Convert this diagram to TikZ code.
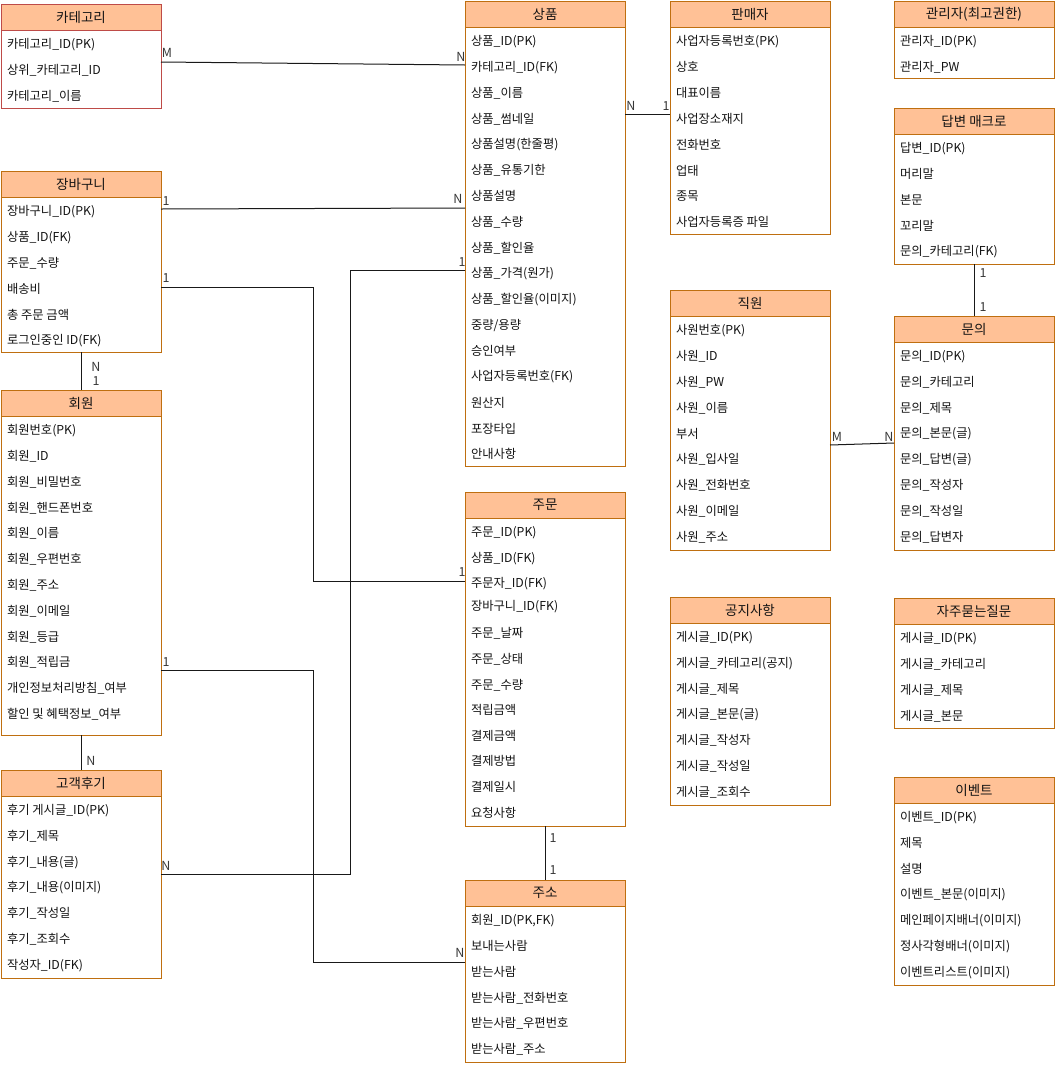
\documentclass[tikz,border=0pt]{standalone}
\usepackage{fontspec}
\setmainfont{Noto Sans CJK KR}
\definecolor{hdrfill}{HTML}{FFC196}
\definecolor{orgstroke}{HTML}{BF6F10}
\definecolor{redstroke}{HTML}{BE4B48}
\definecolor{txt}{HTML}{141414}
\tikzset{
  tbl/.style={rectangle, minimum width=160, inner sep=0, outer sep=0, line width=1pt, fill=white},
  hdr/.style={rectangle, minimum width=160, minimum height=26, inner sep=0, outer sep=0, line width=1pt, fill=hdrfill, font=\fontsize{13.5}{15}\selectfont, text=txt},
  rowtext/.style={anchor=west, inner sep=0, outer sep=0, font=\fontsize{12.3}{14}\selectfont, text=txt},
  conn/.style={draw=black!90, line width=1pt},
  card/.style={inner sep=0, font=\fontsize{12.5}{14}\selectfont, text=txt!85},
}
% #1 stroke colour, #2 id, #3 x, #4 y, #5 height, #6 title, #7 rows
\newcommand{\ertable}[7][orgstroke]{%
  \node[tbl, draw=#1, minimum height=#5, anchor=north west] (#2) at (#3,#4) {};
  \node[hdr, draw=#1, anchor=north west] (#2-h) at (#3,#4) {#6};
  \foreach \r [count=\i] in {#7} {
    \node[rowtext] (#2-\i) at ({#3+6},{#4+26+14.5+(\i-1)*25.8}) {\r};
  }
}
\begin{document}
\begin{tikzpicture}[x=1pt,y=-1pt]
\fill[white] (0,0) rectangle (1055,1066);
\useasboundingbox (0,0) rectangle (1055,1066);

\ertable[redstroke]{cat}{1}{4}{104}{카테고리}{카테고리\_ID(PK), 상위\_카테고리\_ID, 카테고리\_이름}
\ertable{cart}{1}{171}{181}{장바구니}{장바구니\_ID(PK), 상품\_ID(FK), 주문\_수량, 배송비, 총 주문 금액, 로그인중인 ID(FK)}
\ertable{mem}{1}{390}{345}{회원}{회원번호(PK), 회원\_ID, 회원\_비밀번호, 회원\_핸드폰번호, 회원\_이름, 회원\_우편번호, 회원\_주소, 회원\_이메일, 회원\_등급, 회원\_적립금, 개인정보처리방침\_여부, 할인 및 혜택정보\_여부}
\ertable{rev}{1}{770}{208}{고객후기}{후기 게시글\_ID(PK), 후기\_제목, 후기\_내용(글), 후기\_내용(이미지), 후기\_작성일, 후기\_조회수, 작성자\_ID(FK)}
\ertable{prod}{465}{1}{465}{상품}{상품\_ID(PK), 카테고리\_ID(FK), 상품\_이름, 상품\_썸네일, 상품설명(한줄평), 상품\_유통기한, 상품설명, 상품\_수량, 상품\_할인율, 상품\_가격(원가), 상품\_할인율(이미지), {중량/용량}, 승인여부, 사업자등록번호(FK), 원산지, 포장타입, 안내사항}
\ertable{sel}{670}{1}{233}{판매자}{사업자등록번호(PK), 상호, 대표이름, 사업장소재지, 전화번호, 업태, 종목, 사업자등록증 파일}
\ertable{adm}{894}{1}{77}{관리자(최고권한)}{관리자\_ID(PK), 관리자\_PW}
\ertable{mac}{894}{108}{156}{답변 매크로}{답변\_ID(PK), 머리말, 본문, 꼬리말, 문의\_카테고리(FK)}
\ertable{inq}{894}{316}{234}{문의}{문의\_ID(PK), 문의\_카테고리, 문의\_제목, 문의\_본문(글), 문의\_답변(글), 문의\_작성자, 문의\_작성일, 문의\_답변자}
\ertable{emp}{670}{290}{260}{직원}{사원번호(PK), 사원\_ID, 사원\_PW, 사원\_이름, 부서, 사원\_입사일, 사원\_전화번호, 사원\_이메일, 사원\_주소}
\ertable{addr}{465}{880}{182}{주소}{{회원\_ID(PK,FK)}, 보내는사람, 받는사람, 받는사람\_전화번호, 받는사람\_우편번호, 받는사람\_주소}
\ertable{ntc}{670}{597}{208}{공지사항}{게시글\_ID(PK), 게시글\_카테고리(공지), 게시글\_제목, 게시글\_본문(글), 게시글\_작성자, 게시글\_작성일, 게시글\_조회수}
\ertable{faq}{894}{598}{130}{자주묻는질문}{게시글\_ID(PK), 게시글\_카테고리, 게시글\_제목, 게시글\_본문}
\ertable{evt}{894}{777}{208}{이벤트}{이벤트\_ID(PK), 제목, 설명, 이벤트\_본문(이미지), 메인페이지배너(이미지), 정사각형배너(이미지), 이벤트리스트(이미지)}

% 주문 (irregular row spacing)
\node[tbl, draw=orgstroke, minimum height=334, anchor=north west] (ord) at (465,492) {};
\node[hdr, draw=orgstroke, anchor=north west] (ord-h) at (465,492) {주문};
\foreach \yy/\r [count=\i] in {533/주문\_ID(PK), 559/상품\_ID(FK), 584/주문자\_ID(FK), 607/장바구니\_ID(FK), 633/주문\_날짜, 659/주문\_상태, 685/주문\_수량, 710/적립금액, 736/결제금액, 761/결제방법, 787/결제일시, 813/요청사항} {
  \node[rowtext] (ord-\i) at (471,\yy) {\r};
}

% connectors
\draw[conn] ([yshift=-58pt]cat.north east) -- ([yshift=-64pt]prod.north west);
\draw[conn] ([yshift=-38pt]cart.north east) -- ([yshift=-207pt]prod.north west);
\draw[conn] ([yshift=-116pt]cart.north east) -- ++(152,0) |- ([yshift=-89pt]ord.north west);
\draw[conn] ([yshift=-104pt]rev.north east) -- ++(189,0) |- ([yshift=-269pt]prod.north west);
\draw[conn] ([yshift=-280pt]mem.north east) -- ++(152,0) |- ([yshift=-82pt]addr.north west);
\draw[conn] (cart.south) -- (mem.north);
\draw[conn] (mem.south) -- (rev.north);
\draw[conn] ([yshift=-113pt]prod.north east) -- ([yshift=-113pt]sel.north west);
\draw[conn] ([yshift=-155pt]emp.north east) -- ([yshift=-127pt]inq.north west);
\draw[conn] (mac.south) -- (inq.north);
\draw[conn] (ord.south) -- (addr.north);

% cardinalities
\node[card] (c1a) at (167,53) {M};
\node[card] (c1b) at (461,57) {N};
\node[card] (c2a) at (166,201) {1};
\node[card] (c2b) at (458,199) {N};
\node[card] (c3a) at (166,278) {1};
\node[card] (c3b) at (462,572) {1};
\node[card] (c4a) at (166,866) {N};
\node[card] (c4b) at (462,262) {1};
\node[card] (c5a) at (166,662) {1};
\node[card] (c5b) at (460,953) {N};
\node[card] (c6a) at (96,367) {N};
\node[card] (c6b) at (96,381) {1};
\node[card] (c7a) at (91,761) {N};
\node[card] (c8a) at (631,106) {N};
\node[card] (c8b) at (666,106) {1};
\node[card] (c9a) at (837,437) {M};
\node[card] (c9b) at (889,437) {N};
\node[card] (c10a) at (983,273) {1};
\node[card] (c10b) at (983,307) {1};
\node[card] (c11a) at (553,838) {1};
\node[card] (c11b) at (553,870) {1};
\end{tikzpicture}
\end{document}
